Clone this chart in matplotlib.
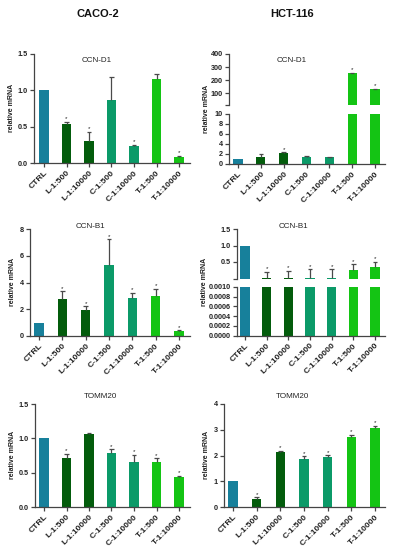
import matplotlib
matplotlib.use("Agg")
import matplotlib.pyplot as plt
import numpy as np

plt.rcParams['font.family'] = ['Liberation Sans', 'DejaVu Sans']

W, H = 395, 550

categories = ["CTRL", "L-1:500", "L-1:10000", "C-1:500", "C-1:10000", "T-1:500", "T-1:10000"]
bar_colors = ["#17809b", "#035c0c", "#035c0c", "#0b9a68", "#0b9a68", "#14c414", "#14c414"]

# CACO-2
caco_d1 = [1.0, 0.54, 0.30, 0.87, 0.23, 1.16, 0.08]
caco_d1_err = [0, 0.03, 0.13, 0.31, 0.02, 0.06, 0.015]
caco_d1_sig = [False, True, True, False, True, False, True]

caco_b1 = [1.0, 2.77, 1.92, 5.29, 2.84, 2.99, 0.35]
caco_b1_err = [0, 0.57, 0.30, 1.94, 0.36, 0.55, 0.07]
caco_b1_sig = [False, True, True, True, True, True, True]

caco_tom = [1.0, 0.71, 1.064, 0.79, 0.66, 0.66, 0.435]
caco_tom_err = [0, 0.06, 0.016, 0.05, 0.10, 0.05, 0.015]
caco_tom_sig = [False, True, False, True, True, True, True]

# HCT-116
hct_d1 = [1.0, 1.4, 2.2, 1.4, 1.35, 255, 130]
hct_d1_err = [0, 0.5, 0.15, 0.1, 0.1, 3, 3]
hct_d1_sig = [False, False, True, False, False, True, True]

hct_b1 = [1.0, 0.005, 0.01, 0.005, 0.005, 0.25, 0.35]
hct_b1_err = [0, 0.19, 0.23, 0.27, 0.27, 0.18, 0.16]
hct_b1_sig = [False, True, True, True, True, True, True]

hct_tom = [1.0, 0.31, 2.12, 1.87, 1.94, 2.71, 3.06]
hct_tom_err = [0, 0.06, 0.07, 0.10, 0.07, 0.08, 0.08]
hct_tom_sig = [False, True, True, True, True, True, True]

fig = plt.figure(figsize=(W / 100, H / 100), dpi=100)

SP = "#444444"
TICKFS = 5.2
XTICKFS = 6.1


def add_ax(left, right, top, bot):
    return fig.add_axes([left / W, 1 - bot / H, (right - left) / W, (bot - top) / H])


def style(ax, show_x=True):
    for s in ["top", "right"]:
        ax.spines[s].set_visible(False)
    for s in ["left", "bottom"]:
        ax.spines[s].set_color(SP)
        ax.spines[s].set_linewidth(0.9)
    ax.tick_params(axis="both", colors=SP, width=0.9, length=3, labelsize=TICKFS,
                   labelcolor="#222222", pad=1.5)
    for lab in ax.get_yticklabels():
        lab.set_fontweight("bold")
    if show_x:
        ax.set_xticks(range(len(categories)))
        ax.set_xticklabels(categories, rotation=45, ha="right", rotation_mode="anchor",
                           fontsize=XTICKFS, fontweight="bold", color="#222222")
    else:
        ax.spines["bottom"].set_visible(False)
        ax.set_xticks([])


def draw_bars(ax, vals, errs, xl, width, show_err=True):
    x = np.arange(len(categories))
    ax.bar(x, vals, width=width, color=bar_colors, edgecolor="none", zorder=2)
    if show_err:
        cw = width * 0.5
        for i, (v, e) in enumerate(zip(vals, errs)):
            if e > 0:
                ax.vlines(i, v, v + e, color="#4a4a4a", lw=0.9, zorder=3)
                ax.hlines(v + e, i - cw / 2, i + cw / 2, color="#4a4a4a", lw=0.9, zorder=3)
    ax.set_xlim(*xl)
    return x


def stars(ax, vals, errs, sigs, ymin=None, ymax=None):
    for i, (v, e, s) in enumerate(zip(vals, errs, sigs)):
        if s:
            top = v + e
            if ymax is not None and top > ymax:
                continue
            if ymin is not None and top < ymin:
                continue
            ax.annotate("*", (i, top), xytext=(0, 0.5), textcoords="offset points",
                        ha="center", va="bottom", fontsize=4.5, color="#222222",
                        annotation_clip=False)


def xlim_from(left, first, last, right):
    sp = (last - first) / 6
    return ((left - first) / sp, 6 + (right - last) / sp), sp


def ylabel(xpx, ycpx):
    fig.text(xpx / W, 1 - ycpx / H, "relative mRNA", rotation=90, ha="center",
             va="center", fontsize=5.0, fontweight="bold", color="#222222")


def title(xpx, ypx, txt):
    fig.text(xpx / W, 1 - ypx / H, txt, ha="center", va="center",
             fontsize=5.8, color="#222222")


# Column titles
fig.text(98 / W, 1 - 14 / H, "CACO-2", ha="center", va="center", fontsize=8,
         fontweight="bold", color="#111111")
fig.text(292 / W, 1 - 14 / H, "HCT-116", ha="center", va="center", fontsize=8,
         fontweight="bold", color="#111111")

# ---- Panel 1: CACO-2 CCN-D1
xl, sp = xlim_from(34, 44, 179, 190)
ax = add_ax(34, 190, 54, 163)
draw_bars(ax, caco_d1, caco_d1_err, xl, 9.3 / sp)
ax.set_ylim(0, 1.5)
ax.set_yticks([0, 0.5, 1.0, 1.5])
ax.set_yticklabels(["0.0", "0.5", "1.0", "1.5"])
style(ax)
stars(ax, caco_d1, caco_d1_err, caco_d1_sig)
title(97, 60, "CCN-D1")
ylabel(12, 108)

# ---- Panel 3: CACO-2 CCN-B1
xl, sp = xlim_from(30, 39, 179, 190)
ax = add_ax(30, 190, 229, 336)
draw_bars(ax, caco_b1, caco_b1_err, xl, 9.3 / sp)
ax.set_ylim(0, 8)
ax.set_yticks([0, 2, 4, 6, 8])
style(ax)
stars(ax, caco_b1, caco_b1_err, caco_b1_sig)
title(90, 226, "CCN-B1")
ylabel(13, 282)

# ---- Panel 5: CACO-2 TOMM20
xl, sp = xlim_from(35, 44, 179, 190)
ax = add_ax(35, 190, 404, 507)
draw_bars(ax, caco_tom, caco_tom_err, xl, 9.3 / sp)
ax.set_ylim(0, 1.5)
ax.set_yticks([0, 0.5, 1.0, 1.5])
ax.set_yticklabels(["0.0", "0.5", "1.0", "1.5"])
style(ax)
stars(ax, caco_tom, caco_tom_err, caco_tom_sig)
title(100, 396, "TOMM20")
ylabel(13, 455)

# ---- Panel 2: HCT-116 CCN-D1 (broken axis)
xl, sp = xlim_from(229, 238, 375, 385)
bw = 9.3 / sp
axu = add_ax(229, 385, 54, 105)
draw_bars(axu, hct_d1, hct_d1_err, xl, bw)
axu.set_ylim(10, 400)
axu.set_yticks([10, 100, 200, 300, 400])
axu.set_yticklabels(["", "100", "200", "300", "400"])
style(axu, show_x=False)
stars(axu, hct_d1, hct_d1_err, hct_d1_sig, ymin=10)
title(292, 60, "CCN-D1")

axl = add_ax(229, 385, 114, 164)
draw_bars(axl, hct_d1, hct_d1_err, xl, bw)
axl.set_ylim(0, 10)
axl.set_yticks([0, 2, 4, 6, 8, 10])
style(axl)
stars(axl, hct_d1, hct_d1_err, hct_d1_sig, ymax=10)
ylabel(206, 109)

# ---- Panel 4: HCT-116 CCN-B1 (broken axis)
xl, sp = xlim_from(237, 245, 375, 385)
bw = 9.3 / sp
axu = add_ax(237, 385, 229, 278.5)
draw_bars(axu, hct_b1, hct_b1_err, xl, bw)
axu.set_ylim(0, 1.5)
axu.set_yticks([0, 0.5, 1.0, 1.5])
axu.set_yticklabels(["", "0.5", "1.0", "1.5"])
style(axu, show_x=False)
stars(axu, hct_b1, hct_b1_err, hct_b1_sig)
title(293, 226, "CCN-B1")

axl = add_ax(237, 385, 286.7, 335.7)
draw_bars(axl, hct_b1, hct_b1_err, xl, bw, show_err=False)
axl.set_ylim(0, 0.001)
axl.set_yticks([0, 0.0002, 0.0004, 0.0006, 0.0008, 0.0010])
axl.set_yticklabels(["0.0000", "0.0002", "0.0004", "0.0006", "0.0008", "0.0010"])
style(axl)
ylabel(205, 282)

# ---- Panel 6: HCT-116 TOMM20
xl, sp = xlim_from(224, 233, 375, 385)
ax = add_ax(224, 385, 404, 507)
draw_bars(ax, hct_tom, hct_tom_err, xl, 9.3 / sp)
ax.set_ylim(0, 4)
ax.set_yticks([0, 1, 2, 3, 4])
style(ax)
stars(ax, hct_tom, hct_tom_err, hct_tom_sig)
title(292, 396, "TOMM20")
ylabel(207, 455)

fig.savefig("out.png", dpi=100, facecolor="white")
